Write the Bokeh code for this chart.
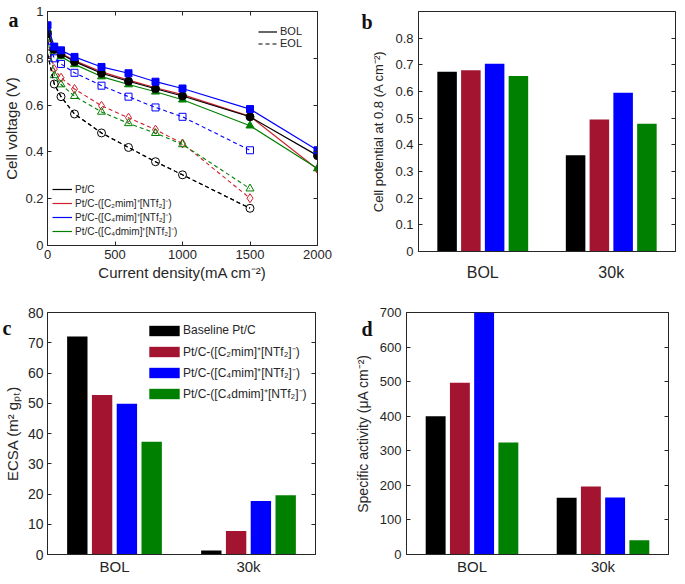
from bokeh.plotting import figure
from bokeh.models import (Legend, LegendItem, LinearAxis, FixedTicker,
                          CustomJSTickFormatter, Label, Range1d)
from bokeh.layouts import column, row
from bokeh.embed import file_html
from bokeh.resources import INLINE

FONT = "Liberation Sans"
AX = "#262626"

# ---------------- data ----------------
current_bol = [0, 50, 100, 200, 400, 600, 800, 1000, 1500, 2000]
current_eol = [0, 50, 100, 200, 400, 600, 800, 1000, 1500]

ptc_bol = [0.905, 0.838, 0.818, 0.786, 0.736, 0.702, 0.670, 0.639, 0.550, 0.384]
c2_bol = [0.906, 0.842, 0.822, 0.790, 0.742, 0.707, 0.674, 0.645, 0.552, 0.326]
c4_bol = [0.941, 0.850, 0.834, 0.806, 0.763, 0.736, 0.700, 0.671, 0.583, 0.407]
c4d_bol = [0.924, 0.834, 0.808, 0.774, 0.722, 0.688, 0.657, 0.623, 0.512, 0.329]

ptc_eol = [0.820, 0.690, 0.636, 0.562, 0.481, 0.419, 0.358, 0.302, 0.159]
c2_eol = [0.878, 0.754, 0.717, 0.669, 0.597, 0.546, 0.495, 0.436, 0.202]
c4_eol = [0.875, 0.800, 0.776, 0.738, 0.683, 0.636, 0.590, 0.550, 0.407]
c4d_eol = [0.888, 0.727, 0.688, 0.638, 0.571, 0.522, 0.480, 0.432, 0.243]

names_a = ["Pt/C", "Pt/C-([C₂mim]⁺[NTf₂]⁻)", "Pt/C-([C₄mim]⁺[NTf₂]⁻)", "Pt/C-([C₄dmim]⁺[NTf₂]⁻)"]
names_c = ["Baseline Pt/C", "Pt/C-([C₂mim]⁺[NTf₂]⁻)", "Pt/C-([C₄mim]⁺[NTf₂]⁻)", "Pt/C-([C₄dmim]⁺[NTf₂]⁻)"]

groups = ["BOL", "30k"]
# panel b: cell potential at 0.8 A cm-2
pot_ptc = [0.674, 0.361]
pot_c2 = [0.680, 0.495]
pot_c4 = [0.704, 0.595]
pot_c4d = [0.658, 0.479]
# panel c: ECSA
ecsa_ptc = [72.1, 1.3]
ecsa_c2 = [52.7, 7.8]
ecsa_c4 = [49.8, 17.7]
ecsa_c4d = [37.3, 19.6]
# panel d: specific activity
sa_ptc = [400, 164]
sa_c2 = [497, 197]
sa_c4 = [700, 165]
sa_c4d = [324, 41]

xticks_a = [0, 500, 1000, 1500, 2000]
yticks_a = [0, 0.2, 0.4, 0.6, 0.8, 1.0]
yticks_b = [0, 0.1, 0.2, 0.3, 0.4, 0.5, 0.6, 0.7, 0.8]
yticks_c = [0, 10, 20, 30, 40, 50, 60, 70, 80]
yticks_d = [0, 100, 200, 300, 400, 500, 600, 700]

line_colors = ["#000000", "#D0202F", "#0000FF", "#008000"]
bar_colors = ["#000000", "#A2142F", "#0000FF", "#008000"]
markers = ["circle", "diamond", "square", "triangle"]
msizes = [8, 9, 7, 8]


def style(p):
    p.outline_line_color = AX
    p.xgrid.visible = False
    p.ygrid.visible = False
    for ax in list(p.xaxis) + list(p.yaxis):
        ax.major_tick_in = 4
        ax.major_tick_out = 0
        ax.minor_tick_line_color = None
        ax.axis_line_color = AX
        ax.major_tick_line_color = AX
        ax.major_label_text_font = FONT
        ax.major_label_text_color = AX
        ax.axis_label_text_font = FONT
        ax.axis_label_text_font_style = "normal"
        ax.axis_label_text_color = AX


def mirror(p, where, ticks):
    ax = LinearAxis(ticker=FixedTicker(ticks=ticks),
                    formatter=CustomJSTickFormatter(code="return ''"),
                    major_tick_in=4, major_tick_out=0, minor_tick_line_color=None,
                    axis_line_color=AX, major_tick_line_color=AX,
                    major_label_text_font_size="0px", major_label_standoff=0)
    p.add_layout(ax, where)


def letter(p, txt, x, y, side):
    p.add_layout(Label(x=x, y=y, x_units="screen", y_units="screen", text=txt,
                       text_font="Liberation Serif", text_font_size="20px",
                       text_font_style="bold", text_color="#111111",
                       text_baseline="alphabetic"), side)


# ---------------- panel a ----------------
pa = figure(frame_width=270, frame_height=234, x_range=Range1d(0, 2000), y_range=Range1d(0, 1),
            output_backend="svg", toolbar_location=None,
            min_border_left=40, min_border_right=20, min_border_top=11, min_border_bottom=50)
pa.xaxis.ticker = FixedTicker(ticks=xticks_a)
pa.yaxis.ticker = FixedTicker(ticks=yticks_a)
pa.yaxis.major_label_overrides = {0: "0", 1: "1"}
pa.xaxis.axis_label = "Current density(mA cm⁻²)"
pa.yaxis.axis_label = "Cell voltage (V)"
style(pa)
for ax in list(pa.xaxis) + list(pa.yaxis):
    ax.major_label_text_font_size = "13px"
    ax.axis_label_text_font_size = "15px"
    ax.major_label_standoff = 4
    ax.axis_label_standoff = 2
mirror(pa, "above", xticks_a)
mirror(pa, "right", yticks_a)

bol = [ptc_bol, c2_bol, c4_bol, c4d_bol]
eol = [ptc_eol, c2_eol, c4_eol, c4d_eol]
order = [1, 3, 0, 2]
for i in order:
    pa.line(current_eol, eol[i], line_color=line_colors[i], line_width=1.1, line_dash="4 3")
    pa.scatter(current_eol, eol[i], marker=markers[i], size=msizes[i], fill_color=None,
               line_color=line_colors[i], line_width=1)
bol_lines = {}
for i in order:
    bol_lines[i] = pa.line(current_bol, bol[i], line_color=line_colors[i], line_width=1.2)
    pa.scatter(current_bol, bol[i], marker=markers[i], size=msizes[i], fill_color=line_colors[i],
               line_color=line_colors[i])
eol_key = pa.line(current_eol, ptc_eol, line_color="#000000", line_width=1.1, line_dash="4 3")

leg1 = Legend(items=[LegendItem(label=names_a[i], renderers=[bol_lines[i]]) for i in range(4)],
              location=(5, 7), glyph_width=20, glyph_height=14, label_height=14, spacing=0,
              padding=0, margin=0, border_line_alpha=0, background_fill_alpha=0,
              label_text_font=FONT, label_text_font_size="10px", label_text_color=AX,
              label_standoff=3)
leg2 = Legend(items=[LegendItem(label="BOL", renderers=[bol_lines[0]]),
                     LegendItem(label="EOL", renderers=[eol_key])],
              location=(211, 196), glyph_width=19, glyph_height=11, label_height=11, spacing=-3,
              padding=0, margin=0, border_line_alpha=0, background_fill_alpha=0,
              label_text_font=FONT, label_text_font_size="11px", label_text_color=AX,
              label_standoff=3)
pa.add_layout(leg1, "center")
pa.add_layout(leg2, "center")
letter(pa, "a", -309, 226, "right")

# ---------------- bar panels ----------------
offsets = [-0.2775, -0.0925, 0.0925, 0.2775]
group_pos = [1, 2]


def bar_panel(fw, fh, yr, yticks, series, ylabel, borders, tick_fs, lab_fs, cat_fs, cat_standoff,
              tick_standoff=5, label_standoff=6, overrides=None):
    bl, br, bt, bb = borders
    p = figure(frame_width=fw, frame_height=fh, x_range=Range1d(0.5, 2.5), y_range=Range1d(0, yr),
               output_backend="svg", toolbar_location=None,
               min_border_left=bl, min_border_right=br, min_border_top=bt, min_border_bottom=bb)
    p.xaxis.ticker = FixedTicker(ticks=group_pos)
    p.xaxis.major_label_overrides = {g: lab for g, lab in zip(group_pos, groups)}
    p.yaxis.ticker = FixedTicker(ticks=yticks)
    if overrides:
        p.yaxis.major_label_overrides = overrides
    p.yaxis.axis_label = ylabel
    style(p)
    p.xaxis.major_tick_in = 0
    p.xaxis.major_label_text_font_size = cat_fs
    p.xaxis.major_label_standoff = cat_standoff
    p.yaxis.major_label_text_font_size = tick_fs
    p.yaxis.axis_label_text_font_size = lab_fs
    p.yaxis.major_label_standoff = tick_standoff
    p.yaxis.axis_label_standoff = label_standoff
    mirror(p, "right", yticks)
    rs = []
    for i, vals in enumerate(series):
        xs = [g + offsets[i] for g in group_pos]
        rs.append(p.vbar(x=xs, top=vals, width=0.152, fill_color=bar_colors[i], line_color=None))
    return p, rs


pb, _ = bar_panel(257, 240, 0.9, yticks_b, [pot_ptc, pot_c2, pot_c4, pot_c4d],
                  "Cell potential at 0.8 (A cm⁻²)", (81, 1, 2, 44), "13px", "13px", "16px", 12,
                  overrides={0: "0"})
letter(pb, "b", 4, 230, "left")

pc, rc = bar_panel(268, 242, 80, yticks_c, [ecsa_ptc, ecsa_c2, ecsa_c4, ecsa_c4d],
                   "ECSA (m² gₚₜ)", (47, 20, 16, 24), "14px", "15px", "15px", 3,
                   tick_standoff=4, label_standoff=4)
legc = Legend(items=[LegendItem(label=names_c[i], renderers=[rc[i]]) for i in range(4)],
              location=(98, 151), glyph_width=38, glyph_height=13, label_height=20, spacing=1,
              padding=0, margin=0, border_line_alpha=0, background_fill_alpha=0,
              label_text_font=FONT, label_text_font_size="12px", label_text_color=AX,
              label_standoff=0)
pc.add_layout(legc, "center")
letter(pc, "c", -313, 227, "right")

pd, _ = bar_panel(262, 242, 700, yticks_d, [sa_ptc, sa_c2, sa_c4, sa_c4d],
                  "Specific activity (μA cm⁻²)", (71, 1, 17, 23), "13px", "14px", "15px", 3)
letter(pd, "d", 21, 226, "left")

layout = column(row(pa, pb), row(pc, pd))
open("out.html", "w").write(file_html(layout, INLINE))
